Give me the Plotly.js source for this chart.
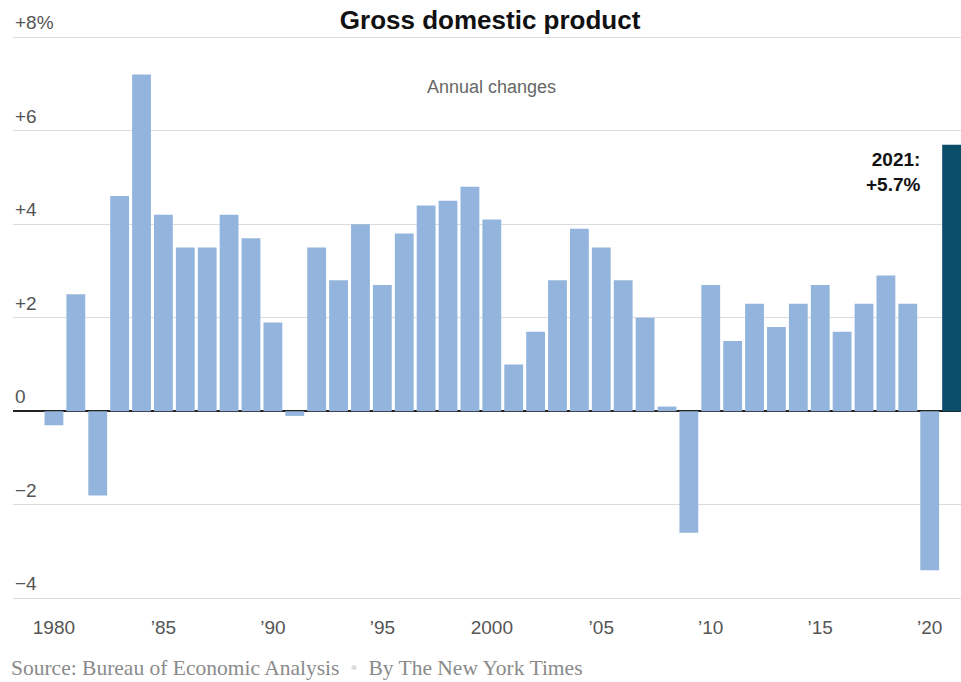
<!DOCTYPE html>
<html>
<head>
<meta charset="utf-8">
<script src="https://cdn.plot.ly/plotly-3.0.1.min.js"></script>
<style>html,body{margin:0;padding:0;background:#fff;}#chart{width:961px;height:682px;}</style>
</head>
<body>
<div id="chart"></div>
<script>
const years = [1980,1981,1982,1983,1984,1985,1986,1987,1988,1989,1990,1991,1992,1993,1994,1995,1996,1997,1998,1999,2000,2001,2002,2003,2004,2005,2006,2007,2008,2009,2010,2011,2012,2013,2014,2015,2016,2017,2018,2019,2020,2021];
const gdpChange = [-0.3,2.5,-1.8,4.6,7.2,4.2,3.5,3.5,4.2,3.7,1.9,-0.1,3.5,2.8,4.0,2.7,3.8,4.4,4.5,4.8,4.1,1.0,1.7,2.8,3.9,3.5,2.8,2.0,0.1,-2.6,2.7,1.5,2.3,1.8,2.3,2.7,1.7,2.3,2.9,2.3,-3.4,5.7];
const highlightYear = 2021;
const xTickVals = [1980,1985,1990,1995,2000,2005,2010,2015,2020];
const xTickText = ['1980','’85','’90','’95','2000','’05','’10','’15','’20'];
const yTickVals = [-4,-2,0,2,4,6,8];
const yTickText = ['−4','−2','0','+2','+4','+6','+8%'];

const lightBlue = '#93b5dd';
const darkTeal = '#0b4d6a';
const sans = 'Liberation Sans, Arial, sans-serif';

const trace = {
  type: 'bar',
  x: years,
  y: gdpChange,
  marker: {color: years.map(y => y === highlightYear ? darkTeal : lightBlue)},
  hoverinfo: 'x+y'
};

const yLabelAnnotations = yTickVals.map((v, i) => ({
  text: yTickText[i], xref: 'paper', yref: 'y', x: 0, y: v,
  xanchor: 'left', yanchor: 'bottom', yshift: 2, showarrow: false,
  font: {family: sans, size: 19, color: '#555'}
}));

const last = gdpChange[gdpChange.length - 1];
const layout = {
  width: 961, height: 682,
  margin: {l: 13, r: 0, t: 2, b: 79},
  paper_bgcolor: '#fff', plot_bgcolor: '#fff',
  bargap: 0.14,
  showlegend: false,
  title: {text: '<b>Gross domestic product</b>', x: 0.51, xanchor: 'center', y: 0.971, yanchor: 'middle',
          font: {family: 'Liberation Sans Narrow, Arial Narrow, sans-serif', size: 26, color: '#111'}},
  xaxis: {
    range: [1978.13, 2021.43],
    tickvals: xTickVals, ticktext: xTickText,
    showgrid: false, zeroline: false, showline: false, ticks: '',
    ticklabelstandoff: 11,
    tickfont: {family: sans, size: 19, color: '#555'},
    fixedrange: true
  },
  yaxis: {
    range: [-4.1, 8.75],
    tickvals: yTickVals,
    showticklabels: false,
    showgrid: true, gridcolor: '#dcdcdc', gridwidth: 1,
    zeroline: true, zerolinecolor: '#222', zerolinewidth: 1.5,
    showline: false, ticks: '',
    fixedrange: true
  },
  annotations: yLabelAnnotations.concat([
    {text: 'Annual changes', xref: 'paper', yref: 'paper', x: 0.505, y: 0.8586, xanchor: 'center', yanchor: 'middle',
     showarrow: false, font: {family: sans, size: 18, color: '#666'}},
    {text: '<b>' + highlightYear + ':<br>+' + last.toFixed(1) + '%</b>', xref: 'x', yref: 'y', x: highlightYear - 1.3, y: last - 0.05,
     xanchor: 'right', yanchor: 'top', align: 'right', showarrow: false,
     font: {family: sans, size: 19, color: '#111'}},
    {text: 'Source: Bureau of Economic Analysis  <span style="color:#ddd">•</span>  By The New York Times',
     xref: 'paper', yref: 'paper', x: -0.004, y: -0.108, xanchor: 'left', yanchor: 'middle', showarrow: false,
     font: {family: 'Liberation Serif, DejaVu Serif, serif', size: 21.5, color: '#8a8a8a'}}
  ])
};

Plotly.newPlot('chart', [trace], layout, {displayModeBar: false, staticPlot: true});
</script>
</body>
</html>
